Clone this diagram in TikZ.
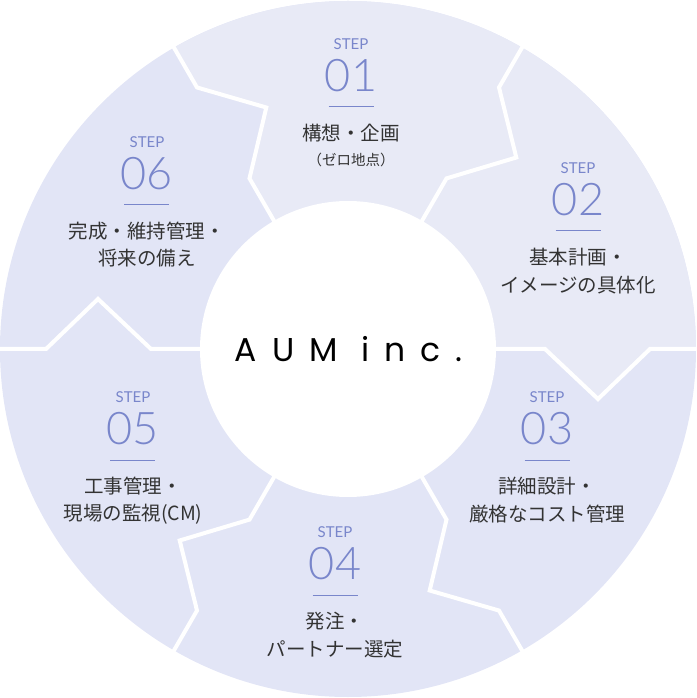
\documentclass[tikz,border=0pt]{standalone}
\usepackage{fontspec}
\newfontfamily\jpfont{Noto Sans CJK JP}
\newfontfamily\latofont{Lato}
\IfFontExistsTF{Lato Light}{\newfontfamily\numfont{Lato Light}}{\newfontfamily\numfont{Lato}}
\newfontfamily\logofont{Poppins}[LetterSpace=45]
\definecolor{segA}{HTML}{E8EAF6}
\definecolor{segB}{HTML}{E2E5F6}
\definecolor{accent}{HTML}{7986CB}
\definecolor{txt}{HTML}{333333}
\tikzset{
  steplbl/.style={inner sep=0pt, text=accent, font=\latofont\fontsize{15}{15}\selectfont},
  stepnum/.style={inner sep=0pt, text=accent, font=\numfont\fontsize{45}{45}\selectfont},
  stepline/.style={draw=accent, line width=1pt},
  steptxt/.style={inner sep=0pt, text=txt, font=\jpfont\fontsize{19.5}{19.5}\selectfont},
  stepsub/.style={inner sep=0pt, text=txt, font=\jpfont\fontsize{14.5}{14.5}\selectfont},
  divider/.style={draw=white, line width=4pt, line join=miter},
}
% #1 name, #2 x(px), #3 y(px) of STEP, #4 number, #5 line 1
\newcommand\stepblk[5]{%
  \node[steplbl] (#1s) at ({#2-348},{349-#3}) {STEP};
  \node[stepnum] (#1n) at ({#2-348},{349-#3-32}) {#4};
  \coordinate (#1a) at ({#2-348-22.5},{349-#3-63});
  \coordinate (#1b) at ({#2-348+22.5},{349-#3-63});
  \draw[stepline] (#1a) -- (#1b);
  \node[steptxt] (#1t) at ({#2-348},{349-#3-89}) {#5};
}
\begin{document}
\begin{tikzpicture}[x=1pt,y=1pt]
\useasboundingbox (-348,-349) rectangle (348,349);
% outer disc
\fill[segB] (0,0) circle[radius=348];
% lighter steps 01 and 02
\fill[segA] (0:148) -- (0:197) -- (-11.31:254.95) -- (0:302) -- (0:348)
  arc[start angle=0,end angle=120,radius=348]
  -- (120:302) -- (108.69:254.95) -- (120:197) -- (120:148) -- cycle;
% dividers
\foreach \a in {0,60,...,300}{
  \draw[divider] (\a:140) -- (\a:197) -- ({\a-11.31}:254.95) -- (\a:302) -- (\a:352);
}
% inner white disc
\fill[white] (0,0) circle[radius=148];
\node[inner sep=0pt, text=black, font=\logofont\fontsize{33}{33}\selectfont] (logo) at (0.5,0) {AUM inc.};
% steps
\stepblk{p1}{351}{44}{01}{構想・企画}
\node[stepsub] (p1u) at ({351-348},{349-160}) {（ゼロ地点）};
\stepblk{p2}{578}{168}{02}{基本計画・}
\node[steptxt] (p2u) at ({578-348},{349-168-117}) {イメージの具体化};
\stepblk{p3}{547}{397}{03}{詳細設計・}
\node[steptxt] (p3u) at ({547-348},{349-397-117}) {厳格なコスト管理};
\stepblk{p4}{335}{532}{04}{発注・}
\node[steptxt] (p4u) at ({335-348},{349-532-117}) {パートナー選定};
\stepblk{p5}{133}{397}{05}{工事管理・}
\node[steptxt] (p5u) at ({133-348},{349-397-117}) {現場の監視(CM)};
\stepblk{p6}{147}{142}{06}{完成・維持管理・}
\node[steptxt] (p6u) at ({147-348},{349-142-116}) {将来の備え};
\end{tikzpicture}
\end{document}
